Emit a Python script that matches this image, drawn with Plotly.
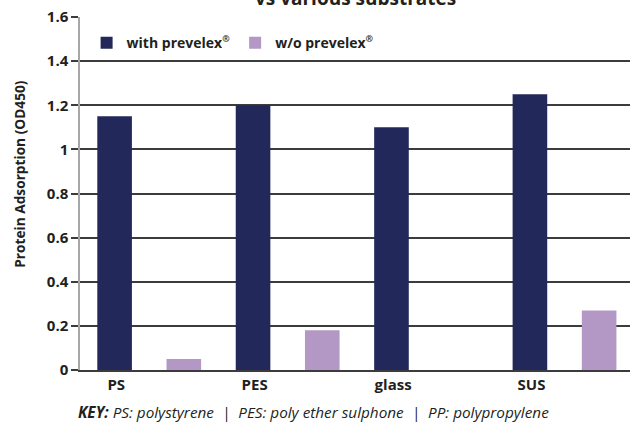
import plotly.graph_objects as go

substrates = ["PS", "PES", "glass", "SUS"]
with_prevelex = [1.15, 1.2, 1.1, 1.25]
without_prevelex = [0.05, 0.18, None, 0.27]
y_ticks = [0, 0.2, 0.4, 0.6, 0.8, 1, 1.2, 1.4, 1.6]

FONT = "Open Sans, Liberation Sans, DejaVu Sans"
TXT = "#231f20"
REG = "<sup><span style='font-size:9px'>®</span></sup>"

fig = go.Figure()
fig.add_trace(go.Bar(x=substrates, y=with_prevelex, name="with prevelex" + REG,
                     marker=dict(color="#22285a", line=dict(width=0))))
fig.add_trace(go.Bar(x=substrates, y=without_prevelex, name="w/o prevelex" + REG,
                     marker=dict(color="#b398c5", line=dict(width=0))))

fig.update_layout(
    width=630, height=426,
    margin=dict(l=80, r=0, t=17, b=56, autoexpand=False),
    paper_bgcolor="white", plot_bgcolor="white",
    barmode="group", bargap=0.0, bargroupgap=0.5,
    font=dict(family=FONT, color=TXT),
    showlegend=True,
    legend=dict(orientation="h", x=0.012, xanchor="left", y=0.926, yanchor="middle",
                font=dict(family=FONT, size=14, color=TXT, weight="bold"),
                bgcolor="rgba(0,0,0,0)", itemwidth=30, tracegroupgap=0),
)
fig.update_xaxes(
    type="category", range=[-0.5, 3.473],
    showline=True, linecolor="#3c3c3c", linewidth=2,
    showgrid=False, ticks="", ticklabelshift=-33,
    tickfont=dict(family=FONT, size=15, color=TXT, weight="bold"),
)
fig.update_yaxes(
    range=[0, 1.6], tickvals=y_ticks,
    showgrid=True, gridcolor="#3c3c3c", gridwidth=2,
    zeroline=False,
    showline=True, linecolor="#a8a8a8", linewidth=1.5,
    ticks="outside", ticklen=7, tickwidth=2, tickcolor="#3c3c3c",
    tickfont=dict(family=FONT, size=15, color=TXT, weight="bold"),
)

fig.add_annotation(text="vs various substrates", xref="paper", yref="paper",
                   x=0.5, y=1.01, xanchor="center", yanchor="bottom", showarrow=False,
                   font=dict(family=FONT, size=19, color=TXT, weight="bold"))
fig.add_annotation(text="Protein Adsorption (OD450)", xref="paper", yref="paper",
                   x=-0.109, y=0.556, xanchor="center", yanchor="middle", textangle=-90,
                   showarrow=False, font=dict(family=FONT, size=13.7, color=TXT, weight="bold"))
fig.add_annotation(text="<b><i>KEY:</i></b><i> PS: polystyrene  |  PES: poly ether sulphone  |  PP: polypropylene</i>",
                   xref="paper", yref="paper", x=(313.5 - 80) / 549.5, y=-0.12,
                   xanchor="center", yanchor="middle", showarrow=False,
                   font=dict(family=FONT, size=15.3, color=TXT))

fig.write_html("out.html", config={"displayModeBar": False},
               post_script="document.body.style.margin='0';")
